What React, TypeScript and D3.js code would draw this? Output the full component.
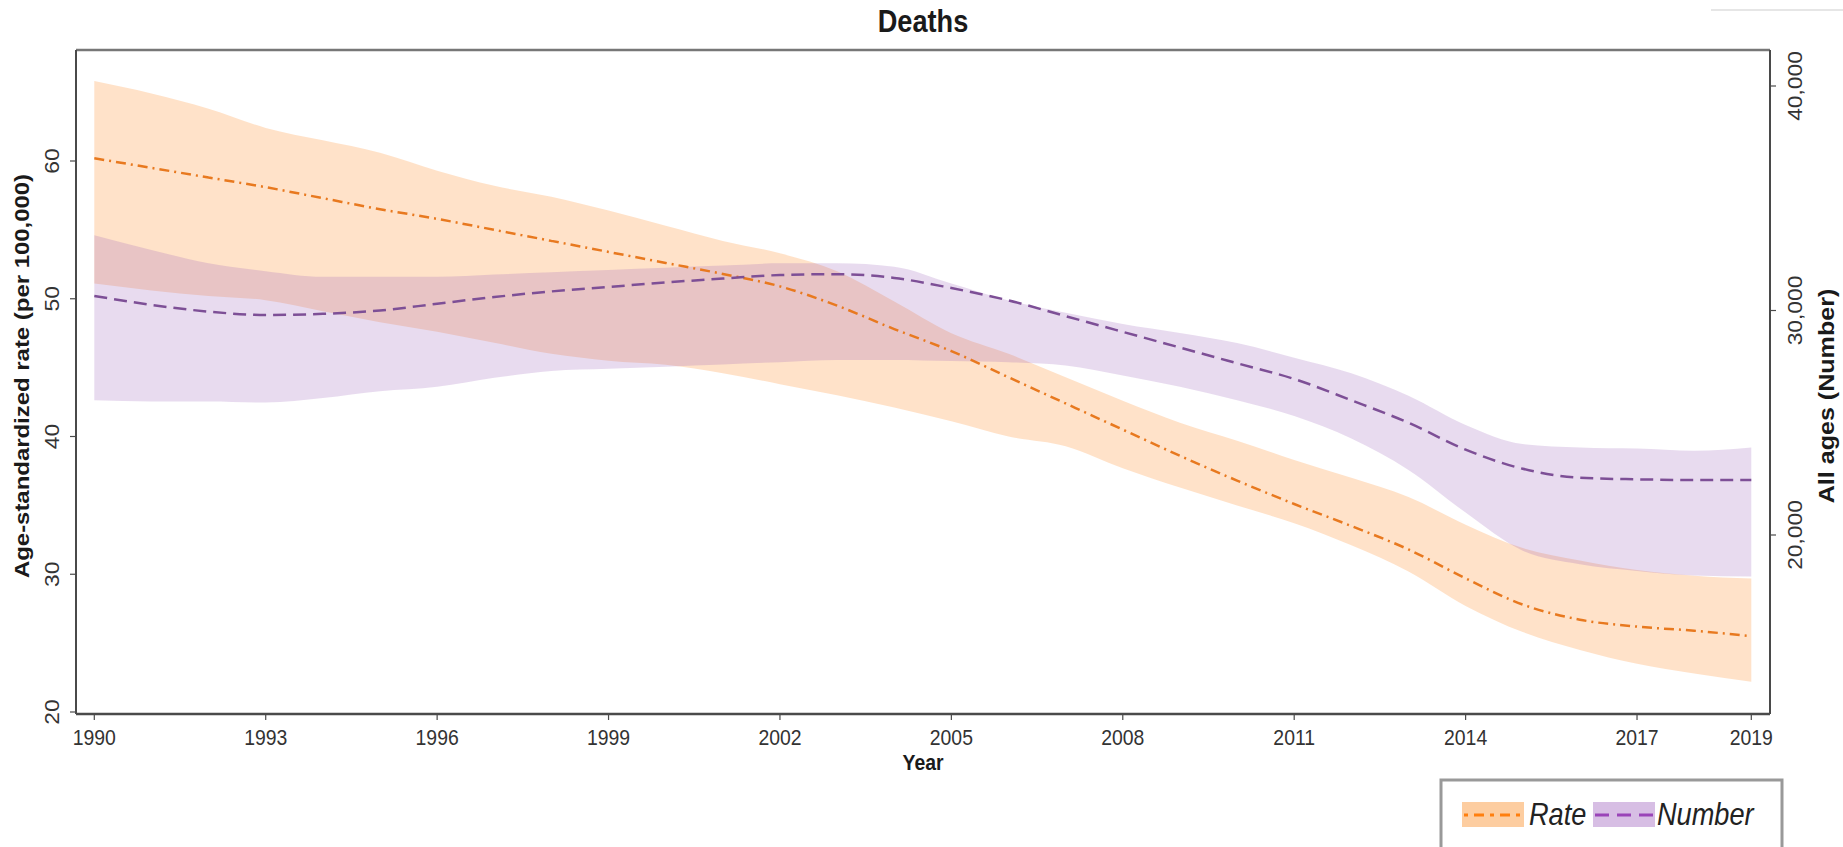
import React from "react";
import * as d3 from "d3";

const years = [1990,1991,1992,1993,1994,1995,1996,1997,1998,1999,2000,2001,2002,2003,2004,2005,2006,2007,2008,2009,2010,2011,2012,2013,2014,2015,2016,2017,2018,2019];
const rate = [60.2,59.5,58.8,58.1,57.3,56.5,55.8,55.0,54.2,53.4,52.6,51.8,50.9,49.5,47.8,46.2,44.3,42.4,40.5,38.6,36.8,35.1,33.5,31.8,29.7,27.8,26.7,26.2,25.9,25.5];
const rateUpper = [65.8,64.9,63.8,62.4,61.5,60.6,59.3,58.2,57.4,56.4,55.3,54.2,53.3,52.0,49.8,47.5,46.0,44.3,42.6,41.0,39.7,38.3,37.0,35.6,33.6,31.9,31.0,30.3,29.9,29.7];
const rateLower = [51.1,50.6,50.2,49.9,49.1,48.3,47.6,46.8,46.0,45.5,45.2,44.6,43.8,43.0,42.1,41.1,40.0,39.3,37.7,36.3,35.0,33.7,32.1,30.2,27.7,25.8,24.5,23.5,22.8,22.2];
const number = [30650,30250,29950,29800,29850,30000,30300,30600,30850,31050,31250,31420,31580,31620,31450,31000,30450,29750,29050,28350,27650,26950,26000,25000,23800,22950,22550,22480,22450,22450];
const numberUpper = [33350,32700,32100,31750,31500,31500,31500,31600,31700,31800,31900,32000,32100,32100,31950,31200,30450,29900,29400,29000,28550,27900,27200,26200,24900,24050,23900,23850,23750,23900];
const numberLower = [26000,25950,25950,25900,26100,26400,26600,27000,27300,27400,27500,27600,27700,27800,27800,27750,27700,27550,27100,26600,26000,25300,24300,22900,21000,19300,18700,18400,18200,18150];

const xTicks = [1990,1993,1996,1999,2002,2005,2008,2011,2014,2017,2019];
const leftTicks = [20,30,40,50,60];
const rightTicks = [20000,30000,40000];

const W = 1843, H = 847;
const PL = 76, PR = 1770, PT = 50, PB = 714;

export default function App() {
  const x = d3.scaleLinear().domain([1990, 2019]).range([94.3, 1751.3]);
  const yL = d3.scaleLinear().domain([20, 60]).range([712, 161]);
  const yR = d3.scaleLinear().domain([20000, 40000]).range([535, 86]);
  const curve = d3.curveMonotoneX;

  const idx = years.map((_, i) => i);
  const rateArea = d3.area<number>().x(i => x(years[i])).y0(i => yL(rateLower[i])).y1(i => yL(rateUpper[i])).curve(curve)(idx) || "";
  const numArea = d3.area<number>().x(i => x(years[i])).y0(i => yR(numberLower[i])).y1(i => yR(numberUpper[i])).curve(curve)(idx) || "";
  const rateLine = d3.line<number>().x(i => x(years[i])).y(i => yL(rate[i])).curve(curve)(idx) || "";
  const numLine = d3.line<number>().x(i => x(years[i])).y(i => yR(number[i])).curve(curve)(idx) || "";

  const font = "'Liberation Sans', Arial, Helvetica, sans-serif";
  const axisColor = "#4a4a4a";
  const midY = (PT + PB) / 2;
  const fmt = d3.format(",");
  const hs = "scale(0.97,1.1)";
  const vs = "scale(1.14,1)";

  return (
    <svg width={W} height={H} style={{ position: "absolute", left: 0, top: 0, background: "#fff" }} fontFamily={font}>
      <rect x={0} y={0} width={W} height={H} fill="#fff" />
      <line x1={1711} x2={1843} y1={10} y2={10} stroke="#e6e6e6" strokeWidth={2} />
      <text transform={`translate(${(PL + PR) / 2},${32}) ${hs}`} textAnchor="middle" fontSize={28} fontWeight="bold" fill="#1a1a1a">Deaths</text>

      <path d={rateArea} fill="rgb(255,140,40)" fillOpacity={0.25} />
      <path d={numArea} fill="rgb(150,90,180)" fillOpacity={0.22} />
      <path d={rateLine} fill="none" stroke="#e8791f" strokeWidth={2.5} strokeDasharray="10 5 2 5" />
      <path d={numLine} fill="none" stroke="#7d4f96" strokeWidth={2.5} strokeDasharray="13 7" />

      <line x1={PL} x2={PR} y1={PT} y2={PT} stroke="#777" strokeWidth={2.5} />
      <line x1={PL} x2={PL} y1={PT} y2={PB} stroke={axisColor} strokeWidth={2} />
      <line x1={PR} x2={PR} y1={PT} y2={PB} stroke={axisColor} strokeWidth={2} />
      <line x1={PL} x2={PR} y1={PB} y2={PB} stroke={axisColor} strokeWidth={2.5} />

      {xTicks.map(t => (
        <g key={t}>
          <line x1={x(t)} x2={x(t)} y1={PB} y2={PB + 6} stroke={axisColor} strokeWidth={1.2} />
          <text transform={`translate(${x(t)},${745}) ${hs}`} textAnchor="middle" fontSize={20} fill="#333">{t}</text>
        </g>
      ))}
      <text transform={`translate(${(PL + PR) / 2},${770}) ${hs}`} textAnchor="middle" fontSize={20} fontWeight="bold" fill="#1a1a1a">Year</text>

      {leftTicks.map(t => (
        <g key={t}>
          <line x1={PL - 6} x2={PL} y1={yL(t)} y2={yL(t)} stroke={axisColor} strokeWidth={1.2} />
          <text transform={`translate(${59},${yL(t)}) rotate(-90) ${vs}`} textAnchor="middle" fontSize={20} fill="#333">{t}</text>
        </g>
      ))}
      <text transform={`translate(${29},${midY - 6}) rotate(-90) ${vs}`} textAnchor="middle" fontSize={21} fontWeight="bold" fill="#1a1a1a">Age-standardized rate (per 100,000)</text>

      {rightTicks.map(t => (
        <g key={t}>
          <line x1={PR} x2={PR + 6} y1={yR(t)} y2={yR(t)} stroke={axisColor} strokeWidth={1.2} />
          <text transform={`translate(${1802},${yR(t)}) rotate(-90) ${vs}`} textAnchor="middle" fontSize={20} fill="#333">{fmt(t)}</text>
        </g>
      ))}
      <text transform={`translate(${1834},${396}) rotate(-90) ${vs}`} textAnchor="middle" fontSize={22} fontWeight="bold" fill="#1a1a1a">All ages (Number)</text>

      <rect x={1441} y={780} width={341} height={90} fill="#fff" stroke="#999" strokeWidth={3} />
      <rect x={1462} y={802} width={62} height={25} fill="rgb(253,205,160)" />
      <line x1={1464} x2={1522} y1={815} y2={815} stroke="#ff7f0e" strokeWidth={3} strokeDasharray="4 6 10 6" />
      <text transform={`translate(${1529},${825}) ${hs}`} fontSize={28} fontStyle="italic" fill="#222">Rate</text>
      <rect x={1593} y={802} width={62} height={25} fill="rgb(215,190,228)" />
      <line x1={1595} x2={1653} y1={815} y2={815} stroke="#9a44b8" strokeWidth={3} strokeDasharray="14 8" />
      <text transform={`translate(${1657},${825}) ${hs}`} fontSize={28} fontStyle="italic" fill="#222">Number</text>
    </svg>
  );
}
